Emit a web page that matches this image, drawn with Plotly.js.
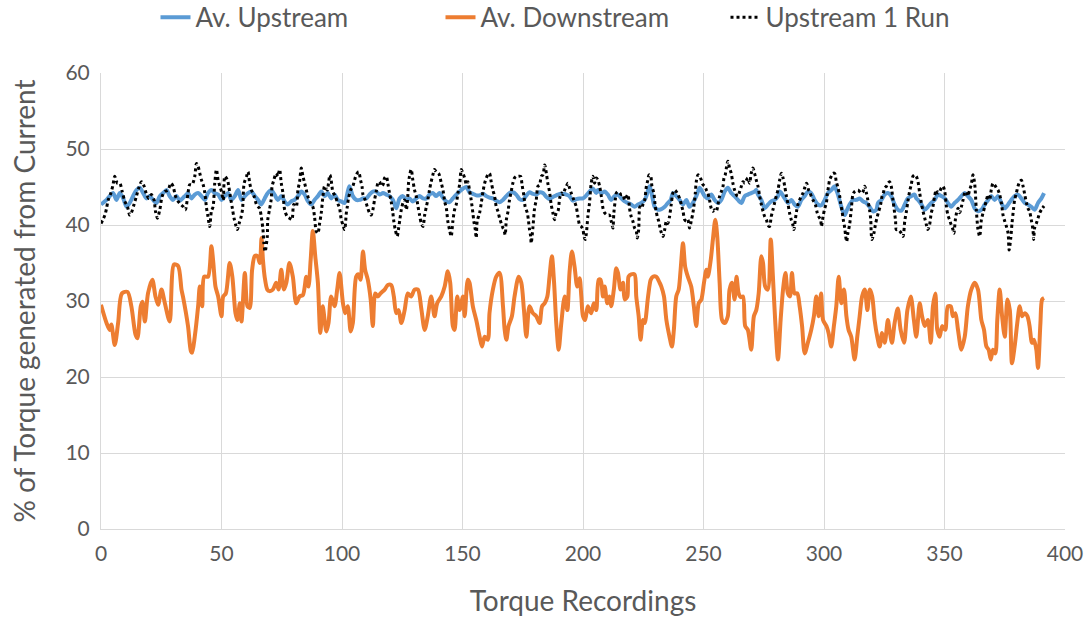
<!DOCTYPE html>
<html>
<head>
<meta charset="utf-8">
<script src="https://cdn.plot.ly/plotly-3.0.1.min.js"></script>
<style>html,body{margin:0;padding:0;background:#fff;}#chart{width:1089px;height:624px;}</style>
</head>
<body>
<div id="chart"></div>
<script>
// [recording index, % of torque]
const avUpstream = [[0,42.7],[2.3,43.3],[3.6,43.8],[5,44.2],[6.4,43.3],[7.8,44.2],[9.2,43.5],[10.6,42.4],[11.9,42.9],[13.3,43.8],[14.7,44.6],[16.1,44.9],[17.5,44.2],[18.9,43.5],[20.2,43.8],[21.6,43.3],[23,42.9],[24.4,43.8],[25.8,44.2],[27.2,44.6],[28.5,43.8],[29.9,43.3],[31.3,43.8],[32.7,43.2],[34.1,43.6],[34.8,43.8],[36.1,44.2],[37.5,43.5],[38.9,44.0],[40.3,44.2],[41.7,43.8],[43.1,43.3],[44.4,44.2],[45.8,44.6],[47.2,44.2],[48.6,44.0],[50,43.3],[51.4,43.8],[52.7,44.2],[54.1,43.3],[55.5,43.8],[56.9,44.6],[58.3,43.3],[59.7,43.8],[61,44.2],[62.4,44.4],[63.8,43.8],[65.2,43.3],[66.5,42.7],[67.9,43.5],[69.2,44.2],[70.6,44.6],[72,44.0],[73.4,43.3],[74.8,43.8],[76.2,43.1],[77.5,42.7],[78.9,43.1],[80.3,43.3],[81.7,43.8],[83.1,44.4],[84.5,44.0],[85.9,43.1],[87.2,42.7],[88.6,43.3],[90,43.8],[91.4,44.4],[92.8,43.8],[94.1,44.2],[95.5,43.5],[96.9,44.0],[98.3,43.3],[99.7,43.1],[101.1,42.9],[102.4,44.4],[103.1,45.1],[104.5,43.8],[105.9,43.3],[107.3,43.3],[108.7,43.5],[110.1,43.5],[111.4,44.0],[112.8,44.4],[114.2,44.4],[115.6,44.0],[117,44.2],[118.4,44.0],[119.7,43.8],[121.1,43.3],[122.5,42.2],[123.9,43.5],[125.3,43.8],[126.7,43.3],[128,43.5],[129.4,43.1],[130.8,43.5],[132.2,43.8],[133.6,43.5],[135,43.5],[136.3,44.0],[137.7,44.2],[139.1,43.8],[140.5,44.2],[141.9,43.6],[143.3,43.1],[144.6,43.0],[146,43.5],[147.4,44.0],[148.8,44.4],[150.2,44.8],[151.6,45.0],[152.9,44.3],[154.3,44.1],[155.7,43.9],[157.1,43.9],[158.5,44.1],[159.9,43.8],[161.2,43.6],[162.6,43.5],[164,43.2],[165.4,43.0],[166.8,43.3],[168.2,43.8],[169.5,44.2],[170.9,44.3],[172.3,44.0],[173.7,43.4],[175.1,43.3],[176.5,43.9],[177.8,44.3],[179.2,44.1],[180.6,44.0],[182,44.3],[183.4,44.2],[184.8,43.7],[186.1,43.4],[187.5,43.7],[188.9,43.9],[190.3,44.1],[191.7,44.1],[193.1,44.0],[194.4,43.8],[195.8,43.2],[197.2,43.4],[198.6,43.5],[200,43.5],[201.4,43.9],[202.7,44.4],[204.1,44.8],[205.5,44.2],[206.2,44.6],[207.6,44.2],[209,44.4],[210.3,44.0],[211.7,43.3],[213.1,43.8],[214.5,44.0],[215.9,43.5],[217.3,43.1],[218.6,42.9],[220,42.7],[221.4,42.4],[222.8,42.7],[224.2,42.9],[225.6,43.3],[226.3,43.8],[227,44.6],[227.6,45.1],[228.3,44.4],[229,43.3],[229.7,42.4],[231.1,42.0],[232.5,42.1],[233.9,42.4],[235.2,42.9],[236.4,43.3],[237.3,44.2],[238.7,43.8],[240.1,43.3],[241.5,42.7],[242.9,43.3],[244.2,42.4],[245.6,42.9],[247,43.8],[248.4,44.9],[249.1,44.6],[250.5,43.8],[251.8,43.5],[253.2,44.0],[254.6,43.3],[256,42.9],[257.4,43.3],[258.8,44.4],[260.1,44.9],[261.5,44.2],[262.9,43.8],[264.3,43.3],[265.7,42.9],[267.1,43.8],[268.4,44.0],[269.8,44.2],[271.2,44.4],[271.9,44.6],[272.6,44.0],[274,43.3],[275.4,42.2],[276.8,42.7],[278.1,43.1],[279.5,43.3],[280.9,43.8],[281.6,44.4],[282.3,44.2],[283.7,43.5],[285.1,42.9],[286.5,43.3],[287.8,42.7],[289.2,42.4],[290.6,43.3],[292,43.8],[293.3,44.4],[294.7,44.2],[296.1,43.3],[297.5,42.7],[298.9,42.6],[300.3,43.3],[301.6,44.2],[303,44.6],[304.4,45.1],[305.1,44.6],[305.8,44.0],[307.2,42.4],[308.6,41.3],[309.3,41.8],[310.6,42.7],[312,43.3],[313.4,43.3],[314.8,43.5],[316.2,43.1],[317.5,42.9],[318.9,42.4],[320.3,41.8],[321.7,42.0],[322.4,42.9],[323.8,43.3],[325.2,44.0],[326.5,44.2],[327.9,43.8],[329.3,42.7],[330.7,42.0],[332.1,41.9],[333.5,42.7],[334.8,43.5],[336.2,43.8],[337.6,44.0],[338.3,43.5],[339,43.3],[340.4,42.7],[341.8,42.0],[343.1,42.4],[344.5,42.9],[345.9,43.3],[347.3,44.0],[348.7,43.8],[350.1,43.5],[351.4,42.9],[352.8,42.4],[354.2,42.9],[355.6,43.3],[357,43.8],[358.4,44.2],[359.7,43.8],[361.1,43.3],[362.5,42.2],[363.9,41.8],[365.3,42.0],[366.7,42.7],[368.1,43.3],[369.4,43.8],[370.8,43.3],[372.2,43.8],[373.6,42.9],[375,42.2],[376.4,42.7],[377.7,43.3],[379.1,43.8],[380.5,44.0],[381.9,43.5],[383.3,42.9],[384.6,42.7],[386,42.4],[387.4,42.0],[388.8,42.9],[390.2,43.5],[391.3,44.2]];

const avDownstream = [[0,29.5],[2.3,27.1],[3.6,26.2],[4.3,26.9],[5.7,24.2],[7.1,27.1],[8.7,31.0],[11,31.2],[12.6,29.3],[14.3,25.6],[15.1,25.1],[16.5,29.3],[17.2,29.9],[18.2,27.3],[19.5,31.0],[21.3,32.8],[22.6,30.6],[23.7,29.5],[25.1,31.5],[26.5,29.7],[28.5,27.3],[30.3,34.8],[32,34.6],[33.4,31.5],[34,30.6],[36.1,26.7],[37.3,23.4],[37.8,23.2],[38.9,25.3],[40.3,29.3],[41,31.9],[42,29.3],[42.8,33.2],[44.4,33.2],[45.8,37.2],[46.5,35.4],[47.5,31.9],[48.6,30.6],[50,28],[50.7,30.6],[51.8,31],[53.4,35],[54.5,33.2],[55.8,28.4],[56.6,27.5],[57.6,29.7],[58.3,27.3],[59.7,33.7],[60.8,29.3],[61.7,29.1],[62.7,34.1],[63.8,35.9],[64.9,35.9],[65.9,35],[66.6,38.3],[67.2,35.4],[67.9,33.2],[69,31.5],[69.9,31.3],[71.3,31.5],[72.7,32.4],[73.7,31.5],[74.8,34.1],[75.9,31.5],[76.9,32.4],[78.2,35],[79.6,33.2],[81,29.7],[82.4,30.6],[83.8,30.8],[85.2,33.2],[86.1,31.9],[87,35.4],[87.9,39.2],[88.9,35.9],[90,32.4],[91,25.8],[92,29.3],[93.5,26],[94.4,27.1],[95.5,30.6],[96.9,29.3],[98,31.5],[99,33.7],[100.4,29.7],[101.3,28.4],[102.4,29.3],[103.6,26],[104.5,27.1],[105.9,33.2],[106.9,33.5],[107.7,32.8],[108.7,36.5],[109.6,34.1],[110.7,32.8],[111.9,30.2],[112.8,26.7],[113.8,31],[114.9,30.6],[116,31],[117.7,31.5],[119,32.1],[120.4,32.1],[121.5,30.6],[122.5,28.4],[123.5,28.8],[124.6,27.1],[126,28.8],[127.3,31],[128.7,30.6],[130.1,31.5],[131.5,31.5],[132.9,29],[134.3,26.2],[135.6,28],[137,30.6],[138.4,28],[139.5,29.7],[141.2,30.6],[142.6,31.9],[143.9,33.9],[144.9,32.4],[146,26.7],[146.7,26.2],[147.8,30.6],[148.8,28.8],[150.2,30.6],[150.9,28],[152.2,32.8],[152.9,32.4],[154.3,29.3],[155.7,27.5],[157.1,25.3],[158.1,24],[159.2,25.3],[160.5,24.9],[161.2,28.4],[162.6,31.5],[164,33.2],[165.4,33.7],[166.8,29.3],[167.5,26.2],[168.2,24.9],[169.1,26.7],[170.5,28],[171.6,30.6],[173.3,33.2],[174.4,32.4],[175.5,28.8],[176.5,25.3],[177.8,29.3],[179.2,28.4],[180.6,28],[182,27.1],[183,29.3],[184.1,29.7],[185.2,30.6],[186.1,33.2],[187.1,35.9],[188,32.4],[188.9,27.1],[189.9,23.6],[191,27.1],[192.4,30.6],[193.5,28.8],[194.4,33.7],[195.4,36.5],[196.5,34.5],[197.6,31.9],[198.6,33],[199.3,30.6],[200,28],[200.9,27.5],[202,29.3],[203.4,28.4],[204.5,29.7],[205.5,28.8],[206.5,32.8],[207.3,32.8],[208.3,30.6],[209,31.9],[210.1,29.7],[211,30.6],[211.7,29.3],[212.8,31.5],[213.8,34.3],[214.5,33.7],[215.6,31.5],[216.6,32.4],[217.3,30.2],[218.4,30.6],[218.9,33.2],[220,33.5],[221.4,33.5],[222.1,30.6],[223.1,28],[223.9,24.9],[224.9,27.5],[225.6,27.1],[227,30.6],[228.1,32.8],[229,33.2],[230.4,33.2],[231.8,32.4],[232.5,31.9],[233.6,30.6],[234.6,27.5],[235.9,25.3],[236.9,24],[237.7,26.2],[238.7,30.6],[239.7,31.5],[240.5,34.1],[241.5,37.6],[242.4,34.5],[243.5,33.2],[244.9,31.9],[246,29.3],[247,26.7],[248,29.7],[249.1,30.2],[250.2,32.4],[251.2,34.1],[251.8,33.2],[253,35.4],[253.9,38.1],[254.9,40.7],[255.7,38.5],[256.7,32.4],[257.7,27.5],[258.8,27.1],[260.1,28],[260.8,31.5],[261.8,32.4],[262.9,30.2],[263.7,33.2],[264.6,31],[265.5,30.5],[266.4,30.6],[267.3,26.7],[268.4,26.2],[269.8,23.6],[270.9,28],[271.9,28.8],[272.9,31],[274,35.9],[274.7,35],[275.6,31.9],[276.7,31.5],[277.9,38.1],[278.8,33.2],[279.8,27.1],[280.9,22.3],[282,27.5],[283,31.5],[284,33.7],[285,31],[285.9,30.6],[286.7,33.7],[287.8,31],[288.9,31],[289.9,29.3],[290.9,26.7],[292,23.1],[293.3,24.5],[294.7,26.2],[295.8,28],[296.8,30.6],[297.8,28],[298.8,31],[299.6,27.5],[301,26.7],[301.9,25.8],[303,24],[304.1,26.7],[305.1,29.3],[306.1,33.2],[307.2,29.7],[308.3,31.5],[309.3,28],[310.2,26.2],[311.3,25.3],[312.7,22.3],[313.8,25.3],[314.8,28],[315.8,30.6],[316.9,31.5],[318,28.8],[319,31.5],[320,30.6],[321,27.5],[322.1,25.3],[323.1,24],[324.1,25.8],[325.2,24.5],[326.5,27.5],[327.2,26.2],[328.2,24.5],[329.3,27.1],[330.6,29],[331.8,26.2],[333.2,24.5],[334.6,28.8],[336,30.6],[337.3,27.5],[338.3,25.3],[339.7,29.7],[340.7,28],[341.8,26.7],[343.1,27.5],[344.3,24.5],[345.2,29.3],[346.2,31],[347,26.2],[348,25.3],[349,26.7],[350.3,26.2],[351.4,29.3],[352.6,29.3],[353.5,28],[354.5,28.4],[355.6,26.2],[357,23.6],[358.4,25.3],[359.7,29.3],[361.1,31.5],[362.5,32.4],[363.9,31.5],[365.3,27.5],[366.4,26.2],[367.4,24],[368.3,23.6],[369.2,22.3],[370.1,23.6],[371.1,23.1],[371.9,27.5],[372.9,31.5],[373.9,28],[375,25.3],[376.1,30.2],[377.1,28.8],[378,21.8],[379.1,24],[380.2,27.1],[381.2,29.3],[382.2,28],[383.3,28.4],[384.4,28],[385.3,26.7],[386.3,24.5],[387.1,24.9],[388.1,23.6],[388.8,21.2],[389.8,27.1],[390.5,30.2],[391.3,30.4]];

const upstream1Run = [[0,40.2],[1.6,41.3],[2.3,42.2],[3,43.3],[4.1,44.2],[5,45.3],[5.7,46.4],[6.8,45.5],[7.8,45.5],[8.8,44.4],[9.9,43.1],[11,42.4],[11.9,41.3],[12.6,41.6],[13.7,42.7],[14.7,43.8],[15.7,44.9],[16.8,45.7],[17.9,45.1],[18.9,44.0],[19.8,43.5],[20.9,44.0],[22,43.3],[22.6,41.8],[23.4,40.9],[24.4,42.0],[25.4,43.8],[26.5,44.4],[27.8,44.6],[29,45.5],[29.9,45.1],[30.9,43.8],[32,43.1],[33.1,42.7],[34.1,42.4],[35,42.0],[36.1,44.2],[36.8,45.3],[37.8,45.3],[38.9,46.4],[39.6,48.1],[40.3,47.7],[41,46.8],[41.7,45.9],[42.4,45.3],[43.1,44.2],[43.8,42.2],[44.4,41.1],[45.1,39.8],[45.8,41.8],[46.5,42.4],[47.2,45.5],[47.9,47.3],[48.6,45.9],[49.3,45.1],[50,44.4],[50.7,43.3],[51.4,46.4],[52.5,45.9],[53,45.1],[53.9,43.3],[54.5,42.2],[55.2,40.9],[55.9,40.0],[56.6,39.4],[57.3,40.2],[58,40.9],[58.7,42.0],[59.4,45.5],[60.4,46.4],[61,47.0],[61.7,45.5],[62.4,44.6],[63.5,43.8],[64.5,42.7],[65.2,42.4],[65.8,42.2],[66.5,41.1],[67.2,39.4],[67.6,37.6],[68.1,36.5],[69,38.5],[69.2,40.7],[69.9,42.0],[70.6,43.3],[71,45.1],[71.7,45.9],[72.7,46.8],[73.4,46.4],[74.1,47.3],[74.8,45.5],[75.5,44.2],[76.2,42.0],[77.3,41.1],[78.2,40.9],[79.2,40.7],[80,42.7],[81,42.4],[81.7,44.6],[82.4,45.7],[83.1,47.5],[83.8,46.4],[84.5,45.5],[85.2,44.6],[85.8,43.8],[86.9,42.9],[87.9,42.4],[88.6,41.1],[89.3,39.2],[90,38.9],[90.7,40.2],[91.4,41.6],[92.1,43.8],[92.8,45.1],[93.9,44.6],[94.4,45.5],[95,46.6],[95.5,45.9],[96.2,44.4],[97.2,43.8],[98.3,42.8],[99,42.2],[99.7,40.7],[100.4,40.0],[101.1,39.4],[101.8,41.6],[102.2,42.4],[102.7,43.5],[103.6,44.6],[104.5,45.1],[105.2,45.9],[105.9,46.6],[106.9,47.0],[107.7,45.9],[108.3,45.1],[108.7,44.0],[109.6,43.3],[110.5,42.4],[111.4,41.6],[112.1,41.3],[112.8,42.0],[113.5,43.3],[114.2,44.4],[114.9,45.5],[115.6,45.7],[116.3,45.1],[117,45.3],[117.7,46.2],[118.4,46.4],[119,45.5],[119.7,44.2],[120.4,43.1],[121.1,41.6],[121.5,40.5],[122.1,39.4],[122.9,38.5],[123.5,39.6],[124,40.7],[124.6,42.0],[125.3,42.9],[126,43.3],[126.7,42.0],[127.3,43.8],[127.6,45.5],[128,46.4],[128.7,47.3],[129.4,45.9],[130.1,44.6],[130.8,43.8],[131.5,42.5],[132.2,41.3],[132.9,40.2],[133.6,39.8],[134.3,41.3],[135,42.4],[135.6,43.3],[136.3,44.6],[137,45.7],[137.7,46.6],[138.4,47.3],[139.1,47.0],[140.1,46.8],[141.2,45.5],[141.9,44.6],[142.6,43.1],[143.3,42.2],[143.9,40.5],[144.6,39.4],[145.3,38.5],[146,40.5],[146.7,42.0],[147.4,42.7],[148.1,44.2],[148.8,45.3],[149.5,47.3],[150.2,46.8],[150.9,46.2],[151.6,45.3],[152.2,45.7],[152.9,44.6],[153.6,43.3],[154.3,41.6],[154.7,40.5],[155.3,39.4],[155.7,38.3],[156.1,40.5],[157.1,41.6],[157.8,42.9],[158.5,44.4],[159.2,45.5],[159.9,46.2],[160.5,46.6],[161.2,46.8],[161.9,45.7],[162.6,44.6],[163.3,43.8],[164,42.4],[164.7,41.8],[165.4,40.9],[166.1,40.2],[166.8,39.6],[167.2,39.4],[167.7,38.7],[168.2,40.7],[168.9,41.8],[169.5,43.3],[170.2,44.4],[170.9,45.5],[171.6,46.2],[172.3,46.4],[173,46.4],[174.1,46.4],[174.7,45.3],[175.5,43.8],[176,42.4],[176.9,41.6],[177.4,40.5],[177.8,39.4],[178.3,38.5],[178.5,37.6],[179.2,39.6],[179.9,42.2],[180.6,43.3],[181.3,45.1],[182,45.3],[182.7,46.4],[183.4,46.6],[184.1,47.9],[184.8,46.8],[185.4,45.5],[186.1,44.4],[186.8,42.7],[187.5,41.6],[188.2,40.7],[188.9,41.6],[189.6,41.8],[190.3,43.5],[191,44.2],[191.7,44.0],[192.4,44.6],[193.1,45.1],[193.7,45.5],[194.4,44.9],[195.1,44.2],[196.2,43.3],[197.2,42.4],[197.9,41.1],[198.6,40.0],[199.3,39.8],[200,39.4],[200.4,38.5],[200.9,38.1],[201.4,38.9],[202,41.1],[202.7,42.9],[203.4,45.5],[204.1,46.4],[204.8,45.5],[205.5,46.2],[206.2,45.9],[206.9,45.1],[207.6,43.8],[208.3,42.2],[209,41.6],[210.1,41.3],[211,41.3],[211.7,40.5],[212.4,39.6],[212.8,41.6],[213.4,43.3],[213.8,44.2],[214.5,44.4],[215.2,44.2],[215.9,44.0],[216.6,44.0],[217.3,43.3],[218.6,44.0],[219.3,42.2],[220,41.1],[220.7,40.5],[221.4,39.6],[222.1,39.2],[222.5,38.3],[223.1,39.4],[223.6,42.4],[224.2,42.2],[224.9,42.7],[225.6,43.3],[226.3,45.1],[226.9,45.9],[227.4,46.6],[228.1,46.4],[228.6,45.1],[229.4,44.2],[230,42.4],[230.4,41.8],[230.8,41.1],[231.4,40.5],[232.1,39.4],[232.5,39.0],[233.2,38.5],[233.9,39.4],[234.6,40.5],[235.2,40.2],[235.9,41.1],[236.6,42.7],[237.3,44.2],[238,44.6],[238.7,44.4],[239.4,44.0],[240.1,43.5],[240.8,42.7],[241.5,41.8],[242.2,40.7],[242.9,40.5],[243.5,40.7],[244.2,39.6],[244.9,40.5],[245.6,41.6],[246,42.4],[246.6,44.2],[247,45.7],[247.7,46.6],[248.4,46.4],[249.1,45.9],[249.8,45.3],[250.5,45.1],[251.2,44.6],[251.8,44.2],[252.5,43.3],[253.2,42.2],[253.9,41.8],[254.6,42.0],[255.3,41.8],[256,42.7],[256.7,43.8],[257.4,44.4],[258.1,45.1],[258.5,46.2],[259,46.6],[259.6,47.7],[260.1,48.4],[260.8,47.5],[261.5,46.8],[262.2,45.5],[262.9,44.6],[263.6,44.0],[264.3,43.8],[265,44.4],[265.7,45.1],[266.4,45.7],[267.1,45.5],[267.8,45.9],[268.4,46.2],[269.1,45.5],[269.8,46.8],[270.5,47.5],[271.2,46.8],[271.9,45.9],[272.6,45.1],[273.3,43.8],[274,42.7],[274.7,41.8],[275.4,41.1],[276.1,40.7],[276.7,40.0],[277.4,39.8],[278.1,41.1],[278.8,42.0],[279.5,42.9],[280.2,43.8],[280.9,44.6],[281.6,45.9],[282.3,46.8],[283,46.2],[283.7,45.1],[284.4,43.8],[285.1,42.7],[285.7,41.6],[286.4,40.7],[287.1,40.0],[287.5,39.4],[288.1,40.7],[288.6,41.8],[289.2,42.7],[289.9,43.3],[290.6,43.8],[291.3,44.2],[292,44.9],[292.7,45.5],[293.1,45.3],[293.6,44.6],[294,44.4],[294.7,43.8],[295.4,43.3],[296.4,42.7],[297.2,41.6],[297.8,41.1],[298.6,40.7],[298.9,39.8],[299.6,41.1],[300.3,42.2],[301,42.9],[301.4,44.2],[301.9,45.1],[302.3,45.9],[303,46.4],[303.7,46.8],[304.4,46.8],[305.1,45.7],[305.8,44.9],[306.5,43.8],[306.9,42.9],[307.5,41.8],[308,40.7],[308.6,39.6],[309,38.5],[309.4,37.8],[309.9,38.9],[310.6,40.0],[311.3,42.0],[312,44.0],[312.7,44.4],[314.1,44.6],[315.5,44.2],[316.2,44.4],[316.9,45.1],[317.6,44.2],[318.2,43.3],[318.9,42.0],[319.4,40.7],[319.6,38.9],[319.9,38.1],[320.7,38.9],[321.3,40.0],[322.1,41.1],[322.7,41.8],[323.5,42.7],[324.1,43.8],[324.6,44.2],[325.2,44.9],[325.9,45.1],[326.5,45.5],[327.2,45.7],[327.9,45.1],[328.6,43.3],[329.3,41.6],[329.7,40.5],[330,39.4],[330.7,39.4],[331.4,39.2],[332.1,38.9],[332.8,38.5],[333.5,40.5],[334.2,41.8],[334.8,43.1],[335.5,44.4],[336.2,45.3],[336.9,46.4],[337.6,46.6],[338.3,46.4],[339,45.7],[339.7,44.2],[340.4,42.9],[341.1,41.8],[341.8,40.9],[342.5,40.0],[343.1,39.4],[343.8,40.0],[344.5,41.6],[345.2,42.4],[345.9,43.8],[346.6,44.6],[347.3,44.2],[348,44.4],[348.7,44.9],[349.4,45.1],[350.1,44.4],[350.8,42.4],[351.4,41.3],[352.1,40.7],[352.8,40.0],[353.5,39.4],[353.9,38.9],[354.5,40.7],[355,41.6],[355.6,42.2],[356.3,41.6],[357,42.4],[357.7,43.3],[358.4,44.2],[359.1,44.4],[359.7,43.8],[360.4,44.6],[361.1,45.3],[361.8,46.6],[362.5,45.5],[363.2,42.0],[363.9,39.4],[364.6,38.5],[365.3,40.7],[366,41.6],[366.7,42.4],[367.4,43.3],[368.1,44.0],[368.7,43.3],[369.4,44.6],[370.1,45.5],[370.8,45.3],[371.5,44.9],[372.2,44.6],[372.9,44.0],[373.6,42.9],[374.3,41.3],[375,40.5],[375.7,39.8],[376.4,38.9],[376.8,36.7],[377.5,38.3],[378,40.2],[378.6,42.0],[379.1,43.3],[379.8,44.2],[380.5,45.1],[381.2,45.7],[381.9,45.9],[382.6,45.1],[383.3,44.0],[384,42.9],[384.6,42.2],[385.3,41.8],[386,40.7],[386.7,39.4],[387,38.1],[387.4,39.6],[388.1,40.2],[388.8,40.9],[389.5,41.6],[390.2,42.0],[391.3,42.5]];

const seriesNames = ['Av. Upstream', 'Av. Downstream', 'Upstream 1 Run'];
const xTicks = [0, 50, 100, 150, 200, 250, 300, 350, 400];
const yTicks = [0, 10, 20, 30, 40, 50, 60];

const col = (arr, i) => arr.map(p => p[i]);
const FONT = 'Lato, "Open Sans", sans-serif';
const GREY = '#595959';

const traces = [
  {x: col(avUpstream,0), y: col(avUpstream,1), name: seriesNames[0], type: 'scatter', mode: 'lines',
   line: {color: '#5B9BD5', width: 4, shape: 'spline', smoothing: 0.8}},
  {x: col(avDownstream,0), y: col(avDownstream,1), name: seriesNames[1], type: 'scatter', mode: 'lines',
   line: {color: '#ED7D31', width: 4, shape: 'spline', smoothing: 0.8}},
  {x: col(upstream1Run,0), y: col(upstream1Run,1), name: seriesNames[2], type: 'scatter', mode: 'lines',
   line: {color: '#000000', width: 3, dash: 'dot', shape: 'spline', smoothing: 0.8}}
];

const layout = {
  width: 1089, height: 624,
  margin: {l: 101, r: 24, t: 73, b: 95, autoexpand: false},
  paper_bgcolor: '#ffffff', plot_bgcolor: '#ffffff',
  font: {family: FONT, color: GREY},
  showlegend: true,
  legend: {orientation: 'h', x: 0.5, xanchor: 'center', y: 1.122, yanchor: 'middle',
           font: {family: FONT, size: 26, color: GREY}, entrywidth: 240, entrywidthmode: 'pixels',
           traceorder: 'normal'},
  xaxis: {range: [0, 400], tickvals: xTicks, ticktext: xTicks.map(String), showgrid: true, gridcolor: '#d9d9d9', gridwidth: 1,
          zeroline: false, showline: true, linecolor: '#d9d9d9', ticks: '', ticklabelstandoff: 6,
          tickfont: {family: FONT, size: 21, color: GREY},
          title: {text: 'Torque Recordings', font: {family: FONT, size: 28, color: GREY}, standoff: 27}},
  yaxis: {range: [0, 60], tickvals: yTicks, ticktext: yTicks.map(String), showgrid: true, gridcolor: '#d9d9d9', gridwidth: 1,
          zeroline: false, showline: true, linecolor: '#d9d9d9', ticks: '', ticklabelstandoff: 6,
          tickfont: {family: FONT, size: 21, color: GREY},
          title: {text: '% of Torque generated from Current', font: {family: FONT, size: 28, color: GREY}, standoff: 21}}
};

Plotly.newPlot('chart', traces, layout, {displayModeBar: false, staticPlot: true});
</script>
</body>
</html>
